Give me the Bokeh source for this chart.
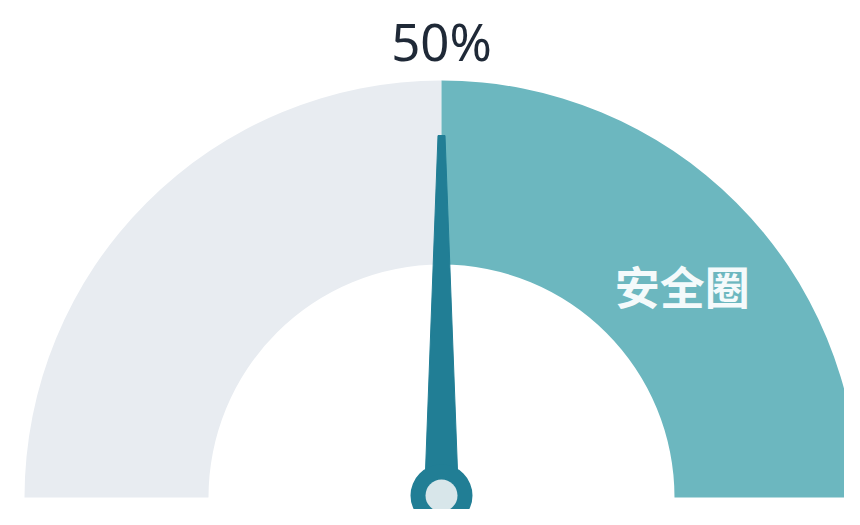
import math
from bokeh.plotting import figure
from bokeh.models import Range1d
from bokeh.core.properties import value
from bokeh.embed import file_html
from bokeh.resources import INLINE

# data
seg_starts = [0, 50]
seg_ends = [50, 100]
seg_colors = ["#e8ecf1", "#6cb7bf"]
gauge_value = 50
value_label = "50%"
zone_label = "安全圈"
zone_label_value = 77

W, H = 844, 509
p = figure(width=W, height=H, output_backend="svg", toolbar_location=None,
           x_range=Range1d(0, W), y_range=Range1d(525 - H, 525), min_border=0)
p.axis.visible = False
p.grid.visible = False
p.outline_line_color = None
p.background_fill_color = "white"
p.border_fill_color = "white"

cx, cy = 441, 525 - 497
r_in, r_out = 233, 417

def ang(v):
    return math.pi * (1 - v / 100.0)

p.annular_wedge(x=[cx] * len(seg_starts), y=[cy] * len(seg_starts),
                inner_radius=r_in, outer_radius=r_out,
                start_angle=[ang(e) for e in seg_ends],
                end_angle=[ang(s) for s in seg_starts],
                color=seg_colors, line_color=None)

# needle
a = ang(gauge_value)
tip_r = 362
tip_hw, base_hw = 3.5, 17
ux, uy = math.cos(a), math.sin(a)
nx, ny = -uy, ux
xs = [cx + nx * base_hw, cx + ux * tip_r + nx * tip_hw,
      cx + ux * tip_r - nx * tip_hw, cx - nx * base_hw]
ys = [cy + ny * base_hw, cy + uy * tip_r + ny * tip_hw,
      cy + uy * tip_r - ny * tip_hw, cy - ny * base_hw]
needle_color = "#217e95"
p.patch(xs, ys, color=needle_color, line_color=needle_color)
p.circle(x=[cx], y=[cy + 2], radius=31, color=needle_color, line_color=None)
p.circle(x=[cx], y=[cy + 2], radius=16, color="#d8e6ea", line_color=None)

# labels
p.text(x=[cx], y=[525 - 40], text=[value_label], text_align="center",
       text_baseline="middle", text_font=value("Noto Sans"),
       text_font_size="51px", text_color="#1f2937")
la = ang(zone_label_value)
lr = 321
p.text(x=[cx + lr * math.cos(la)], y=[cy + lr * math.sin(la)], text=[zone_label],
       text_align="center", text_baseline="middle",
       text_font=value("Noto Sans CJK SC"), text_font_size="45px",
       text_font_style="bold", text_color="#f4fafb")

open("out.html", "w").write(file_html(p, INLINE))
